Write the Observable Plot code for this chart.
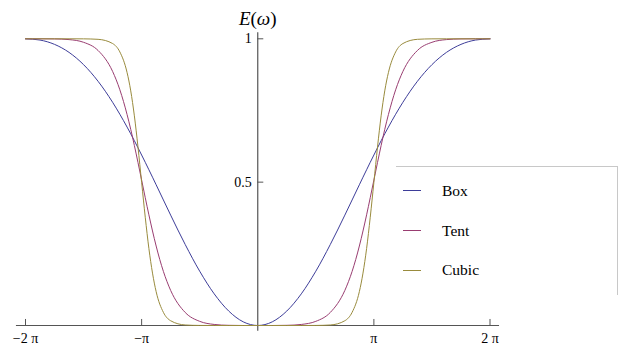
<!DOCTYPE html>
<html><head><meta charset="utf-8">
<script src="https://cdn.jsdelivr.net/npm/d3@7"></script>
<script src="https://cdn.jsdelivr.net/npm/@observablehq/plot@0.6"></script>
<style>
body{margin:0;background:#fff;}
#wrap{position:relative;width:619px;height:346px;overflow:hidden;}
#legend{position:absolute;left:396px;top:166px;width:221px;height:128px;border-top:1px solid #c8c8c8;border-right:1px solid #c8c8c8;font-family:"Liberation Serif",serif;font-size:15.5px;color:#000;}
.item{position:absolute;left:0;height:20px;display:flex;align-items:center;white-space:nowrap;}
.sw{width:18px;height:0;border-top:1px solid;margin-left:7px;margin-right:21px;}
</style></head><body><div id="wrap"></div>
<script>
// x positions in units of pi
const xs = [-2, -1.875, -1.75, -1.625, -1.5, -1.375, -1.25, -1.1875, -1.125, -1.09375, -1.0625, -1.03125, -1, -0.96875, -0.9375, -0.90625, -0.875, -0.8125, -0.75, -0.625, -0.5, -0.375, -0.25, -0.125,
  0, 0.125, 0.25, 0.375, 0.5, 0.625, 0.75, 0.8125, 0.875, 0.90625, 0.9375, 0.96875, 1, 1.03125, 1.0625, 1.09375, 1.125, 1.1875, 1.25, 1.375, 1.5, 1.625, 1.75, 1.875, 2];
const box = [1, 0.9956, 0.9806, 0.9526, 0.9099, 0.8518, 0.7786, 0.7368, 0.6920, 0.6686, 0.6445, 0.6198, 0.5947, 0.5692, 0.5433, 0.5173, 0.4908, 0.4378, 0.3850, 0.2827, 0.1894, 0.1104, 0.0504, 0.0128,
  0, 0.0128, 0.0504, 0.1104, 0.1894, 0.2827, 0.3850, 0.4378, 0.4908, 0.5173, 0.5433, 0.5692, 0.5947, 0.6198, 0.6445, 0.6686, 0.6920, 0.7368, 0.7786, 0.8518, 0.9099, 0.9526, 0.9806, 0.9956, 1];
const tent = [1, 1.0, 0.9996, 0.9972, 0.9878, 0.9593, 0.8863, 0.8222, 0.7355, 0.6841, 0.6279, 0.5684, 0.5072, 0.4458, 0.3861, 0.3297, 0.2772, 0.1886, 0.1224, 0.0456, 0.0145, 0.0037, 0.0006, 0.0,
  0, 0.0, 0.0006, 0.0037, 0.0145, 0.0456, 0.1224, 0.1886, 0.2772, 0.3297, 0.3861, 0.4458, 0.5072, 0.5684, 0.6279, 0.6841, 0.7355, 0.8222, 0.8863, 0.9593, 0.9878, 0.9972, 0.9996, 1.0, 1];
const cubic = [1, 1, 1, 1, 0.9998, 0.9982, 0.9835, 0.9542, 0.8819, 0.8184, 0.7313, 0.6224, 0.4991, 0.3776, 0.2688, 0.1827, 0.1181, 0.0458, 0.0166, 0.0018, 0.0002, 0, 0, 0,
  0, 0, 0, 0, 0.0002, 0.0018, 0.0166, 0.0458, 0.1181, 0.1827, 0.2688, 0.3776, 0.4991, 0.6224, 0.7313, 0.8184, 0.8819, 0.9542, 0.9835, 0.9982, 0.9998, 1, 1, 1, 1];
const seriesNames = ["Box", "Tent", "Cubic"];
const seriesColors = ["#3d3d99", "#993d71", "#998b3d"];
const xTicks = [-2, -1, 1, 2];
const xTickLabels = ["\u22122 \u03c0", "\u2212\u03c0", "\u03c0", "2 \u03c0"];
const yTicks = [0.5, 1];
const yTickLabels = ["0.5", "1"];
const yLabel = "E(\u03c9)";

const seriesValues = [box, tent, cubic];
const data = seriesNames.flatMap((name, s) => xs.map((x, i) => ({x, y: seriesValues[s][i], name})));

const axisColor = "#555";
const chart = Plot.plot({
  width: 619, height: 346, margin: 0,
  style: {fontFamily: "Liberation Serif, serif", background: "white", color: "black"},
  x: {domain: [-2, 2], range: [25, 489.5], axis: null},
  y: {domain: [0, 1], range: [325, 38.3], axis: null},
  color: {domain: seriesNames, range: seriesColors},
  marks: [
    Plot.ruleY([0], {x1: -2.078, x2: 2.082, stroke: axisColor, strokeWidth: 1.2}),
    Plot.ruleX([0], {y1: -0.02, y2: 1.021, stroke: axisColor, strokeWidth: 1.2}),
    Plot.ruleX(xTicks, {x: d => d, y1: 0, y2: 0.021, stroke: axisColor, strokeWidth: 1}),
    Plot.ruleY(yTicks, {y: d => d, x1: 0, x2: 0.052, stroke: axisColor, strokeWidth: 1}),
    Plot.line(data, {x: "x", y: "y", z: "name", stroke: "name", curve: "monotone-x", strokeWidth: 1}),
    Plot.text(xTicks, {x: d => d, y: 0, text: xTickLabels, dy: 13, fontSize: 14, fill: "black"}),
    Plot.text(yTicks, {x: 0, y: d => d, text: yTickLabels, textAnchor: "end", dx: -6, fontSize: 14, fill: "black"}),
    Plot.text([yLabel], {x: 0, y: 1, dy: -20, text: d => d, fontSize: 19, fill: "black", className: "ylab"})
  ]
});
document.getElementById("wrap").appendChild(chart);
// Traditional-form styling: italic E and omega, upright parentheses
const lab = chart.querySelector(".ylab text");
if (lab) lab.innerHTML = '<tspan font-style="italic">E</tspan>(<tspan font-style="italic">\u03c9</tspan>)';

// legend
const legend = document.createElement("div");
legend.id = "legend";
const centers = [13.7, 53.7, 93];
seriesNames.forEach((n, i) => {
  const it = document.createElement("div");
  it.className = "item";
  it.style.top = centers[i] + "px";
  const sw = document.createElement("div");
  sw.className = "sw";
  sw.style.borderTopColor = seriesColors[i];
  const t = document.createElement("span");
  t.textContent = n;
  it.appendChild(sw); it.appendChild(t);
  legend.appendChild(it);
});
document.getElementById("wrap").appendChild(legend);
</script></body></html>
